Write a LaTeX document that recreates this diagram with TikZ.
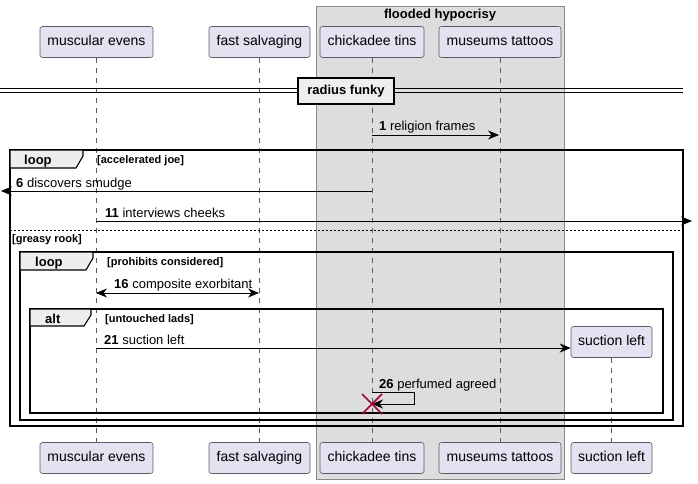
\documentclass[tikz,border=0pt]{standalone}
\usepackage{fontspec}
\setmainfont{Liberation Sans}
\usetikzlibrary{arrows.meta}

\definecolor{partfill}{HTML}{E2E2F0}
\definecolor{partline}{HTML}{5A5A6A}
\definecolor{boxfill}{HTML}{DDDDDD}
\definecolor{boxline}{HTML}{8A8A8A}
\definecolor{tabfill}{HTML}{EEEEEE}
\definecolor{killred}{HTML}{A80036}

\tikzset{
  part/.style={draw=partline, fill=partfill, line width=0.6pt, rounded corners=2.5pt,
    inner sep=0pt, minimum height=31, text height=10, text depth=3,
    font=\fontsize{14}{16}\selectfont},
  lifeline/.style={draw=partline, line width=0.6pt, dash pattern=on 5 off 5},
  msg/.style={draw=black, line width=0.8pt, -{Stealth[length=11,width=9,inset=3.5]}},
  msglbl/.style={anchor=base west, inner sep=0pt, font=\fontsize{13}{15}\selectfont},
  frame/.style={draw=black, line width=1.4pt},
  tab/.style={draw=black, fill=tabfill, line width=1.1pt},
  tablbl/.style={anchor=base west, inner sep=0pt, font=\bfseries\fontsize{13}{15}\selectfont},
  guard/.style={anchor=base west, inner sep=0pt, font=\bfseries\fontsize{11}{13}\selectfont}
}

\begin{document}
\begin{tikzpicture}[x=1pt, y=-1pt]
  \useasboundingbox (0,0) rectangle (698,484);

  % box round the grouped participants
  \draw[draw=boxline, fill=boxfill, line width=0.8pt] (316,6) rectangle (564,479);
  \node[font=\bfseries\fontsize{13}{15}\selectfont] (grp) at (440,15) {flooded hypocrisy};

  % participants, top row
  \node[part, minimum width=113] (me) at (96.5,42) {muscular evens};
  \node[part, minimum width=101] (fs) at (259.5,42) {fast salvaging};
  \node[part, minimum width=104] (ct) at (372,42) {chickadee tins};
  \node[part, minimum width=122] (mt) at (500,42) {museums tattoos};

  % participants, bottom row
  \node[part, minimum width=113] (meb) at (96.5,458) {muscular evens};
  \node[part, minimum width=101] (fsb) at (259.5,458) {fast salvaging};
  \node[part, minimum width=104] (ctb) at (372,458) {chickadee tins};
  \node[part, minimum width=122] (mtb) at (500,458) {museums tattoos};
  \node[part, minimum width=81] (slb) at (611.5,458) {suction left};
  \node[part, minimum width=81] (sl) at (611.5,342) {suction left};

  % lifelines
  \draw[lifeline] (me.south) -- (meb.north);
  \draw[lifeline] (fs.south) -- (fsb.north);
  \draw[lifeline] (ct.south) -- (ctb.north);
  \draw[lifeline] (mt.south) -- (mtb.north);
  \draw[lifeline] (sl.south) -- (slb.north);

  % divider
  \draw[line width=0.8pt] (0,88) -- (683,88);
  \draw[line width=0.8pt] (0,92) -- (683,92);
  \node[draw=black, fill=tabfill, line width=1.4pt, minimum width=96, minimum height=26,
    inner sep=0pt, font=\bfseries\fontsize{13}{15}\selectfont] (div) at (346,91) {radius funky};

  % 1
  \coordinate (m1a) at (372,135);
  \coordinate (m1b) at (499,135);
  \draw[msg] (m1a) -- (m1b);
  \node[msglbl] (l1) at (379,131) {\textbf{1} religion frames};

  % outer loop
  \draw[frame] (10,150) rectangle (683,426);
  \draw[tab] (10,150) -- (83,150) -- (83,156) -- (76,168) -- (10,168) -- cycle;
  \node[tablbl] (t1) at (24,164) {loop};
  \node[guard] (g1) at (97,163) {[accelerated joe]};

  % 6
  \coordinate (m6a) at (372,191);
  \coordinate (m6b) at (1,191);
  \draw[msg] (m6a) -- (m6b);
  \node[msglbl] (l6) at (16,187) {\textbf{6} discovers smudge};

  % 11
  \coordinate (m11a) at (96,221);
  \coordinate (m11b) at (692,221);
  \draw[msg] (m11a) -- (m11b);
  \node[msglbl] (l11) at (105,217) {\textbf{11} interviews cheeks};

  % else part
  \draw[line width=0.8pt, dash pattern=on 2 off 2] (10,230) -- (683,230);
  \node[guard] (g2) at (12,242) {[greasy rook]};

  % inner loop
  \draw[frame] (20,252) rectangle (673,420);
  \draw[tab] (20,252) -- (93,252) -- (93,258) -- (86,270) -- (20,270) -- cycle;
  \node[tablbl] (t2) at (35,266) {loop};
  \node[guard] (g3) at (107,265) {[prohibits considered]};

  % 16
  \coordinate (m16a) at (96,293);
  \coordinate (m16b) at (259,293);
  \draw[msg, {Stealth[length=11,width=9,inset=3.5]}-{Stealth[length=11,width=9,inset=3.5]}] (m16a) -- (m16b);
  \node[msglbl] (l16) at (114,288) {\textbf{16} composite exorbitant};

  % alt
  \draw[frame] (30,309) rectangle (663,413);
  \draw[tab] (30,309) -- (91,309) -- (91,315) -- (84,326) -- (30,326) -- cycle;
  \node[tablbl] (t3) at (45,323) {alt};
  \node[guard] (g4) at (105,322) {[untouched lads]};

  % 21
  \coordinate (m21a) at (96,348);
  \draw[msg] (m21a) -- (sl.west |- m21a);
  \node[msglbl] (l21) at (104,344) {\textbf{21} suction left};

  % 26
  \coordinate (m26a) at (372,392);
  \coordinate (m26b) at (372,404);
  \draw[msg] (m26a) -- (414,392) -- (414,404) -- (m26b);
  \node[msglbl] (l26) at (379,388) {\textbf{26} perfumed agreed};
  \draw[killred, line width=1.6pt] ([shift={(-10,-10)}]m26b) -- ([shift={(10,10)}]m26b);
  \draw[killred, line width=1.6pt] ([shift={(-10,10)}]m26b) -- ([shift={(10,-10)}]m26b);
\end{tikzpicture}
\end{document}
